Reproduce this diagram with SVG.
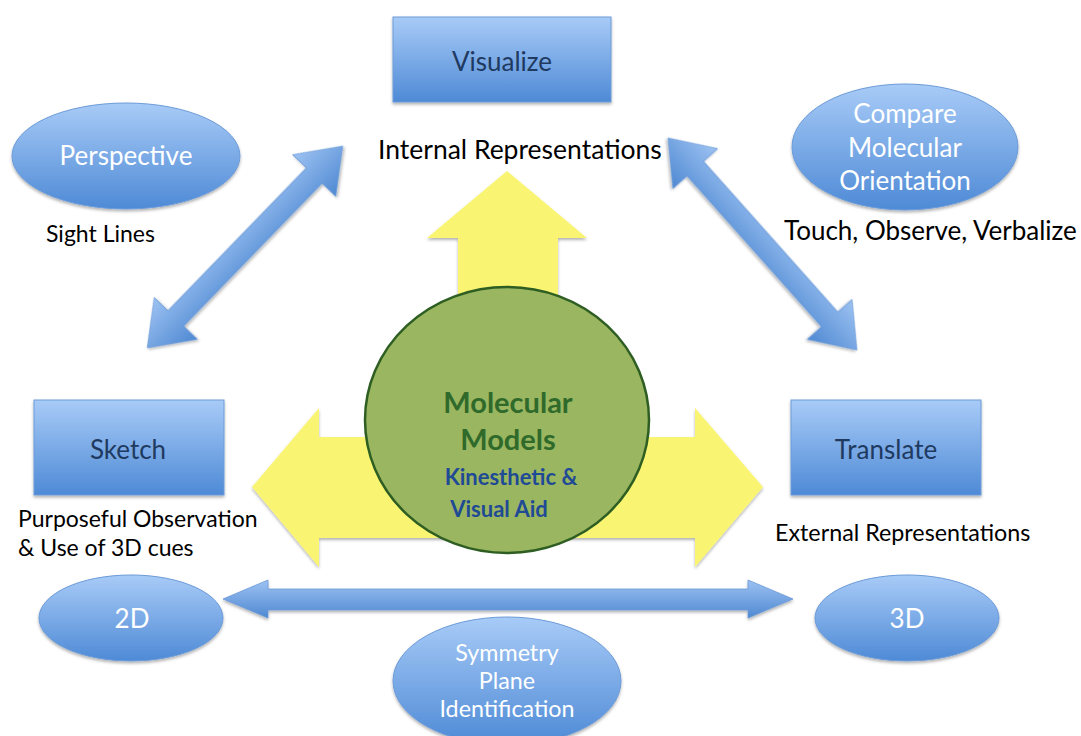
<svg xmlns="http://www.w3.org/2000/svg" width="1081" height="736" viewBox="0 0 1081 736">
<defs>
<linearGradient id="blue" x1="0" y1="0" x2="0" y2="1">
<stop offset="0" stop-color="#A8CBF7"/>
<stop offset="1" stop-color="#4E8AD6"/>
</linearGradient>
<linearGradient id="blueArrow" x1="0" y1="0" x2="0" y2="1">
<stop offset="0" stop-color="#9DC2F2"/>
<stop offset="1" stop-color="#4F89D2"/>
</linearGradient>
<filter id="sh" x="-10%" y="-10%" width="120%" height="130%">
<feDropShadow dx="0" dy="2" stdDeviation="1.5" flood-color="#000" flood-opacity="0.3"/>
</filter>
<style>
.box{fill:url(#blue);stroke:#6C9BD8;stroke-width:1;filter:url(#sh)}
.ell{fill:url(#blue);stroke:#6C9BD8;stroke-width:1;filter:url(#sh)}
.arr{fill:url(#blueArrow);stroke:#6A9AD8;stroke-width:0.8;filter:url(#sh)}
.t{font-family:Lato,"Liberation Sans",sans-serif;text-anchor:middle}
.bt{fill:#1F3A60;font-size:26px}
.wt{fill:#FFFFFF;font-size:26px}
.lab{fill:#000;font-size:23px;font-family:Lato,"Liberation Sans",sans-serif}
</style>
</defs>
<rect width="1081" height="736" fill="#FFFFFF"/>

<g id="connectors">
<polygon id="yellow-arrows" points="507,171 587,238 558,238 558,437 695,437 695,408 763,487 695,567 695,538 319,538 319,567 252,487 319,408 319,437 458,437 458,238 427,238" fill="#F9F573" filter="url(#sh)"/>
<polygon class="arr" transform="translate(245,247) rotate(-45.9)" points="-140.5,0 -99.5,-30 -99.5,-11 99.5,-11 99.5,-30 140.5,0 99.5,30 99.5,11 -99.5,11 -99.5,30"/>
<polygon class="arr" transform="translate(762.5,244) rotate(48.3)" points="-142,0 -101,-30 -101,-11 101,-11 101,-30 142,0 101,30 101,11 -101,11 -101,30"/>
<polygon class="arr" points="223,599 268,580 268,589 748,589 748,580 793,599 748,618 748,610 268,610 268,618"/>
</g>

<g id="visualize">
<rect class="box" x="393" y="17" width="218" height="85"/>
<text class="t bt" x="502" y="71">Visualize</text>
</g>
<text id="internal" class="lab" x="378" y="159" style="font-size:26.5px">Internal Representations</text>

<g id="perspective">
<ellipse class="ell" cx="126" cy="156" rx="114" ry="53"/>
<text class="t wt" x="126" y="165">Perspective</text>
</g>
<text id="sightlines" class="lab" x="46" y="242">Sight Lines</text>

<g id="compare">
<ellipse class="ell" cx="905" cy="147" rx="113" ry="63"/>
<text class="t wt" x="905" y="123">Compare</text>
<text class="t wt" x="905" y="157">Molecular</text>
<text class="t wt" x="905" y="190">Orientation</text>
</g>
<text id="touch" class="lab" x="784" y="240" style="font-size:26px">Touch, Observe, Verbalize</text>

<g id="center">
<ellipse cx="507" cy="420" rx="142" ry="133" fill="#9BB660" stroke="#2E5E22" stroke-width="2.5"/>
<text class="t" x="508" y="413" style="font-size:29px;font-weight:bold;fill:#2F6A2B">Molecular</text>
<text class="t" x="508" y="450" style="font-size:29px;font-weight:bold;fill:#2F6A2B">Models</text>
<text class="t" x="511" y="485" style="font-size:22px;font-weight:bold;fill:#1F4A95">Kinesthetic &amp;</text>
<text class="t" x="499" y="517" style="font-size:22px;font-weight:bold;fill:#1F4A95">Visual Aid</text>
</g>

<g id="sketch">
<rect class="box" x="34" y="400" width="190" height="95"/>
<text class="t bt" x="128" y="459">Sketch</text>
</g>
<text id="purposeful" class="lab" x="18" y="527">Purposeful Observation</text>
<text id="use3d" class="lab" x="18" y="556">&amp; Use of 3D cues</text>

<g id="translate">
<rect class="box" x="791" y="400" width="190" height="95"/>
<text class="t bt" x="886" y="459">Translate</text>
</g>
<text id="external" class="lab" x="775" y="541" style="font-size:23.3px">External Representations</text>

<g id="n2d">
<ellipse class="ell" cx="131" cy="618" rx="92" ry="43"/>
<text class="t wt" x="132" y="628">2D</text>
</g>
<g id="n3d">
<ellipse class="ell" cx="907" cy="618" rx="92" ry="43"/>
<text class="t wt" x="907" y="628">3D</text>
</g>
<g id="symmetry">
<ellipse class="ell" cx="507" cy="681" rx="114" ry="64"/>
<text class="t wt" x="507" y="661" style="font-size:23.3px">Symmetry</text>
<text class="t wt" x="507" y="689" style="font-size:23.3px">Plane</text>
<text class="t wt" x="507" y="717" style="font-size:23.3px">Identification</text>
</g>
</svg>
